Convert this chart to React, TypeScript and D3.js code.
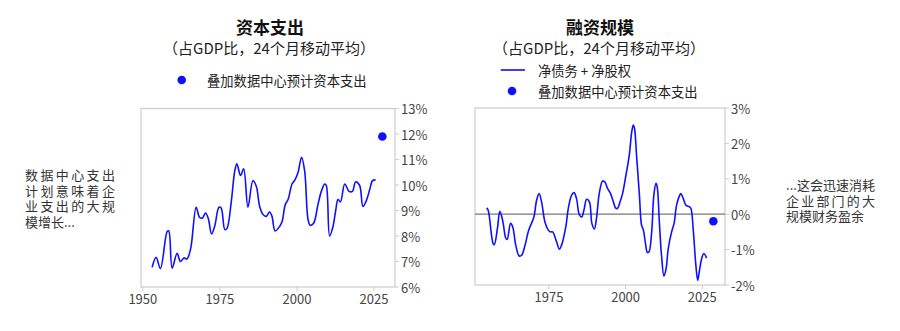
import React from "react";
import * as d3 from "d3";

// ---- Data ----
const capexYears = [1953.0,1954.3,1955.7,1957.9,1958.4,1959.5,1961.1,1962.2,1963.3,1964.3,1965.5,1967.3,1968.4,1969.3,1970.3,1971.2,1972.3,1973.3,1974.7,1975.4,1976.6,1977.3,1978.7,1979.8,1980.5,1981.7,1982.7,1984.1,1985.7,1986.8,1987.9,1989.0,1990.0,1991.1,1991.9,1992.9,1994.4,1995.2,1996.2,1997.1,1998.4,1999.2,2000.3,2001.5,2002.5,2003.6,2004.3,2005.4,2006.8,2007.9,2009.0,2009.5,2010.6,2011.7,2012.6,2013.3,2014.1,2015.5,2016.9,2018.0,2019.0,2020.3,2021.4,2022.5,2023.6,2024.5,2025.5];
const capexValues = [6.77,7.16,6.72,8.18,8.2,6.74,7.32,7.0,7.14,7.1,7.5,9.13,8.73,8.7,8.9,8.7,8.08,8.38,9.13,9.1,8.25,8.3,9.36,10.54,10.83,10.37,10.64,9.13,10.17,9.95,9.16,8.84,8.77,8.94,8.77,8.2,8.38,8.58,9.23,9.43,10.04,10.17,10.47,11.09,10.54,8.64,8.42,8.5,9.23,9.75,10.04,9.99,8.0,8.38,9.03,9.43,9.34,10.04,9.75,9.75,10.12,9.99,9.16,9.39,9.82,10.17,10.2];
const capexDot = { year: 2027.7, value: 11.9 };

const finYears = [1954.7,1955.2,1956.8,1957.2,1958.2,1959.0,1959.9,1961.0,1961.4,1962.5,1963.2,1964.2,1965.3,1966.1,1967.2,1968.3,1969.3,1970.1,1971.0,1971.8,1972.6,1973.7,1974.8,1975.5,1976.2,1977.5,1978.4,1979.1,1980.5,1981.3,1982.4,1983.2,1984.0,1984.9,1985.7,1986.4,1987.3,1988.2,1989.0,1989.8,1990.5,1991.4,1992.5,1993.3,1994.1,1995.1,1996.0,1996.7,1997.3,1998.2,1999.0,2000.1,2001.2,2002.0,2002.5,2002.9,2003.6,2004.5,2005.2,2005.8,2006.4,2007.1,2007.6,2008.5,2009.2,2009.9,2010.3,2011.0,2011.7,2012.5,2013.2,2013.9,2015.0,2015.8,2016.6,2017.5,2018.0,2018.8,2019.7,2020.8,2021.3,2022.1,2022.9,2023.5,2024.0,2024.8,2025.5,2026.4];
const finValues = [0.18,0.11,-0.83,-0.86,-0.41,0.08,-0.17,-0.69,-0.71,-0.26,-0.36,-0.88,-1.18,-1.16,-0.88,-0.48,-0.26,-0.08,0.4,0.58,0.35,-0.22,-0.45,-0.5,-0.5,-0.78,-0.99,-0.88,-0.36,0.16,0.54,0.61,0.44,-0.01,-0.08,0.11,0.42,0.35,-0.26,-0.42,-0.12,0.58,0.94,0.9,0.73,0.58,0.35,0.18,0.16,0.35,0.58,1.1,1.67,2.33,2.52,2.42,1.62,0.54,-0.31,-0.45,-0.78,-1.08,-1.07,-0.5,0.54,0.87,0.77,-0.22,-1.16,-1.75,-1.54,-0.97,-0.5,-0.26,0.25,0.51,0.58,0.44,0.25,0.21,0.16,-0.5,-1.44,-1.87,-1.63,-1.25,-1.11,-1.24];
const finDot = { year: 2028.6, value: -0.2 };

const leftXTicks = [1950, 1975, 2000, 2025];
const leftYTicks = [6, 7, 8, 9, 10, 11, 12, 13];
const rightXTicks = [1975, 2000, 2025];
const rightYTicks = [-2, -1, 0, 1, 2, 3];

const leftTitle = "资本支出";
const rightTitle = "融资规模";
const subtitle = "（占GDP比，24个月移动平均）";
const legendLine = "净债务 + 净股权";
const legendDot = "叠加数据中心预计资本支出";
const leftNote = ["数据中心支出", "计划意味着企", "业支出的大规", "模增长..."];
const rightNote = ["...这会迅速消耗", "企业部门的大", "规模财务盈余"];

const FONT = "'Noto Sans CJK SC', 'Noto Sans', sans-serif";
const BLUE = "#1010ff";
const FRAME = "#cccccc";
const TICKTXT = "#444444";

type Pt = { x: number; y: number };

function Panel(props: {
  x0: number; x1: number; y0: number; y1: number;
  xDomain: [number, number]; yDomain: [number, number];
  xTicks: number[]; yTicks: number[];
  years: number[]; values: number[]; dot: { year: number; value: number };
  zeroLine?: boolean;
}) {
  const { x0, x1, y0, y1 } = props;
  const x = d3.scaleLinear().domain(props.xDomain).range([x0, x1]);
  const y = d3.scaleLinear().domain(props.yDomain).range([y1, y0]);
  const pts: Pt[] = props.years.map((yr, i) => ({ x: yr, y: props.values[i] }));
  const line = d3.line<Pt>().x((d) => x(d.x)).y((d) => y(d.y)).curve(d3.curveCatmullRom.alpha(0.5));
  return (
    <g>
      <rect x={x0} y={y0} width={x1 - x0} height={y1 - y0} fill="none" stroke={FRAME} strokeWidth={1.2} />
      {props.zeroLine && (
        <line x1={x0} x2={x1} y1={y(0)} y2={y(0)} stroke="#777" strokeWidth={1.3} />
      )}
      {props.yTicks.map((t) => (
        <g key={"y" + t}>
          <line x1={x1} x2={x1 + 4} y1={y(t)} y2={y(t)} stroke={FRAME} strokeWidth={1} />
          <text x={x1 + 6} y={y(t)} dominantBaseline="central" fontSize={13} fill={TICKTXT} fontFamily={FONT}>
            {t + "%"}
          </text>
        </g>
      ))}
      {props.xTicks.map((t) => (
        <g key={"x" + t}>
          <line x1={x(t)} x2={x(t)} y1={y1} y2={y1 + 4} stroke={FRAME} strokeWidth={1} />
          <text x={x(t)} y={y1 + 11} textAnchor="middle" dominantBaseline="central" fontSize={13} fill={TICKTXT} fontFamily={FONT}>
            {t}
          </text>
        </g>
      ))}
      <path d={line(pts) || ""} fill="none" stroke={BLUE} strokeWidth={1.6} />
      <circle cx={x(props.dot.year)} cy={y(props.dot.value)} r={4.3} fill={BLUE} />
    </g>
  );
}

function Note(props: { lines: string[]; x: number; y: number; width: number; fullIdx: number[] }) {
  return (
    <text dominantBaseline="central" fontSize={13} fill="#333" fontFamily={FONT}>
      {props.lines.map((l, i) => (
        <tspan
          key={i}
          x={props.x}
          y={props.y + i * 15.5}
          {...(props.fullIdx.includes(i) ? { textLength: props.width, lengthAdjust: "spacing" } : {})}
        >
          {l}
        </tspan>
      ))}
    </text>
  );
}

function Header(props: { cx: number; title: string }) {
  return (
    <text textAnchor="middle" dominantBaseline="central" fontFamily={FONT} fill="#111">
      <tspan x={props.cx} y={26} fontSize={17} fontWeight={700}>{props.title}</tspan>
      <tspan x={props.cx - 1} y={46.5} fontSize={15} fill="#222">{subtitle}</tspan>
    </text>
  );
}

export default function App() {
  return (
    <svg width={900} height={331} style={{ position: "absolute", left: 0, top: 0, background: "#fff" }}>
      {/* Left panel headers */}
      <Header cx={270} title={leftTitle} />
      <circle cx={181.7} cy={80} r={4.3} fill={BLUE} />
      <text x={207} y={80} dominantBaseline="central" fontSize={13.3} fill="#222" fontFamily={FONT}>{legendDot}</text>

      {/* Right panel headers */}
      <Header cx={600} title={rightTitle} />
      <line x1={500.7} x2={525} y1={70} y2={70} stroke={BLUE} strokeWidth={1.6} />
      <text x={538} y={70} dominantBaseline="central" fontSize={13.3} fill="#222" fontFamily={FONT}>{legendLine}</text>
      <circle cx={512} cy={91} r={4.3} fill={BLUE} />
      <text x={538} y={91} dominantBaseline="central" fontSize={13.3} fill="#222" fontFamily={FONT}>{legendDot}</text>

      <Panel
        x0={141} x1={395} y0={108.5} y1={287}
        xDomain={[1949.4, 2031.8]} yDomain={[6, 13]}
        xTicks={leftXTicks} yTicks={leftYTicks}
        years={capexYears} values={capexValues} dot={capexDot}
      />
      <Panel
        x0={475} x1={725} y0={108} y1={285}
        xDomain={[1950.9, 2032.4]} yDomain={[-2, 3]}
        xTicks={rightXTicks} yTicks={rightYTicks}
        years={finYears} values={finValues} dot={finDot} zeroLine
      />

      <Note lines={leftNote} x={25} y={174} width={90} fullIdx={[0, 1, 2]} />
      <Note lines={rightNote} x={786} y={184} width={89} fullIdx={[0, 1]} />
    </svg>
  );
}
